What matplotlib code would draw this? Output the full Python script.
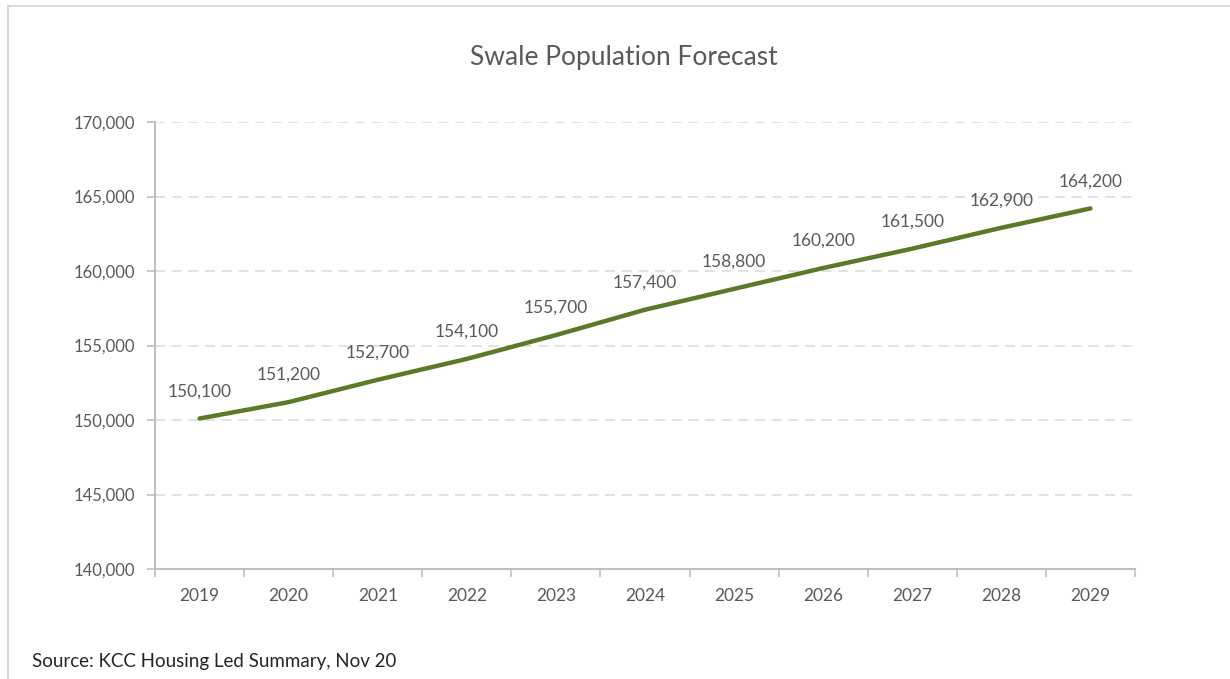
import matplotlib
matplotlib.use("Agg")
import matplotlib.pyplot as plt
from matplotlib.ticker import FuncFormatter, FixedLocator
import numpy as np

years = ["2019", "2020", "2021", "2022", "2023", "2024", "2025", "2026", "2027", "2028", "2029"]
population = [150100, 151200, 152700, 154100, 155700, 157400, 158800, 160200, 161500, 162900, 164200]

plt.rcParams['font.family'] = ['Lato', 'DejaVu Sans']

W, H = 1230, 679
fig = plt.figure(figsize=(W / 100, H / 100), dpi=100)
ax = fig.add_axes([155 / W, 1 - 569 / H, (1135 - 155) / W, (569 - 122) / H])

x = np.arange(len(years))
ax.plot(x, population, color="#5B7A29", lw=3.2, solid_capstyle="round", zorder=3)
for xi, v in zip(x, population):
    ax.annotate(f"{v:,}", (xi, v), xytext=(0, 27), textcoords="offset pixels",
                ha="center", va="center", fontsize=12.5, color="#595959")

ax.set_xlim(-0.5, len(years) - 0.5)
ax.set_ylim(140000, 170000)
ax.set_yticks(np.arange(140000, 170001, 5000))
ax.yaxis.set_major_formatter(FuncFormatter(lambda v, p: f"{int(v):,}"))

ax.set_xticks(x)
ax.set_xticklabels(years)
ax.xaxis.set_minor_locator(FixedLocator(np.arange(-0.5, len(years), 1)))
ax.tick_params(axis="x", which="major", length=0, pad=14, labelsize=12.5, labelcolor="#595959")
ax.tick_params(axis="x", which="minor", length=6, width=1.2, color="#BFBFBF", direction="out")
ax.tick_params(axis="y", length=6, width=1.2, color="#BFBFBF", pad=8, labelsize=12, labelcolor="#595959")

for s in ["top", "right"]:
    ax.spines[s].set_visible(False)
for s in ["left", "bottom"]:
    ax.spines[s].set_color("#BFBFBF")
    ax.spines[s].set_linewidth(1.5)

ax.grid(axis="y", color="#DDDDDD", linestyle=(0, (6, 4)), lw=1.2)
ax.set_axisbelow(True)

fig.text(624 / W, 1 - 57 / H, "Swale Population Forecast", ha="center", va="center",
         fontsize=19, color="#595959")
fig.text(32 / W, 1 - 661 / H, "Source: KCC Housing Led Summary, Nov 20", ha="left", va="center",
         fontsize=13.5, color="#262626")

# outer frame (only top and left visible in the crop)
fig.add_artist(plt.Line2D([8 / W, 1], [1 - 6 / H, 1 - 6 / H], color="#D9D9D9", lw=1.5))
fig.add_artist(plt.Line2D([8 / W, 8 / W], [0, 1 - 6 / H], color="#D9D9D9", lw=1.5))

fig.savefig("out.png", dpi=100)
